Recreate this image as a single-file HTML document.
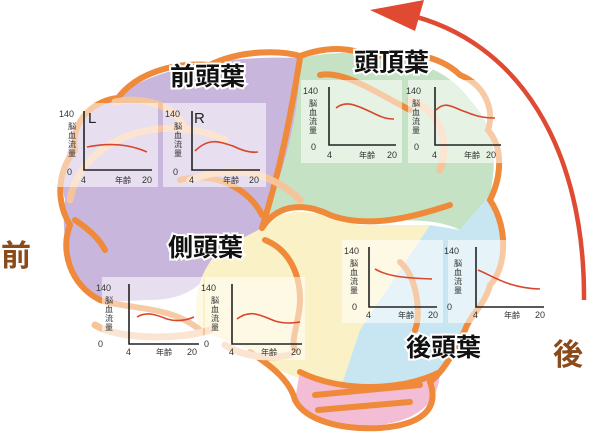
<!DOCTYPE html>
<html><head><meta charset="utf-8"><style>
html,body{margin:0;padding:0;background:#fff;width:600px;height:440px;overflow:hidden}
svg{display:block}
text{font-family:"Liberation Sans","Noto Sans CJK JP",sans-serif}
.t{font-size:9px;fill:#333}
.v{font-size:8px;fill:#333}
.ax{stroke:#222;stroke-width:1.6;fill:none}
.cv{stroke:#d9462a;stroke-width:1.6;fill:none}
.bx{fill:#fff;fill-opacity:0.55}
.lb{font-size:25px;font-weight:bold;fill:#111;stroke:#fff;stroke-width:4;paint-order:stroke}
.ol{stroke:#ee8a3a;stroke-width:6;fill:none;stroke-linecap:round}
.ol2{stroke:#f6c49a;stroke-width:7;fill:none;stroke-linecap:round}
</style></head><body>
<svg width="600" height="440" viewBox="0 0 600 440" xmlns="http://www.w3.org/2000/svg">
<path d="M120,95 C150,70 220,55 300,58 L320,58 C300,120 280,180 260,230 L215,265 C200,290 180,300 150,300 L100,302 C70,280 60,240 65,200 C55,160 80,105 120,95 Z" fill="#c9b6dc"/>
<path d="M300,58 C360,45 440,55 470,100 C500,130 495,170 490,195 L460,230 C420,210 360,230 320,215 C300,205 280,200 262,228 C280,180 300,120 300,58 Z" fill="#c5e3c4"/>
<path d="M262,228 C290,200 320,215 360,225 L430,225 L360,330 L340,390 C300,380 270,370 250,350 L200,330 C190,300 200,270 220,250 Z" fill="#faf1c6"/>
<path d="M430,225 L460,230 L490,195 C505,230 505,270 480,300 C460,330 450,360 430,380 C400,395 360,395 340,390 L360,330 Z" fill="#c8e6f2"/>
<path d="M300,370 C340,390 400,390 440,370 C440,400 420,420 380,425 C340,428 310,420 295,400 Z" fill="#f4bdd6"/>
<path class="ol" d="M100,300 C70,285 60,250 70,225 C55,200 58,170 75,150 C70,120 95,100 118,98 C135,75 170,62 210,65 C240,50 280,50 300,56 C330,45 355,48 372,58 C400,48 440,55 460,75 C485,85 495,110 488,130 C505,150 500,180 490,200 C510,230 505,270 490,285 C485,305 470,315 465,330 C455,350 445,370 430,382"/>
<path class="ol" d="M430,382 C440,410 420,425 380,428 C340,430 305,420 295,400 C290,380 270,365 250,352"/>
<path class="ol" d="M300,372 C340,392 400,392 440,372"/>
<path class="ol" d="M315,395 L420,385 M318,410 L410,402"/>
<path class="ol" d="M262,228 C280,200 310,205 330,215 C370,230 420,215 450,205"/>
<path class="ol" d="M300,58 C290,120 280,170 262,228"/>
<path class="ol" d="M320,75 C345,70 380,95 410,110"/>
<path class="ol" d="M180,180 C215,170 250,190 262,215"/>
<path class="ol" d="M265,240 C290,250 300,275 300,300 C300,320 290,340 295,350"/>
<path class="ol" d="M400,262 C420,280 420,320 415,330"/>
<path class="ol" d="M75,220 C90,230 100,240 105,250"/>
<path class="ol" d="M100,300 C130,310 170,305 200,330"/>
<path class="ol2" d="M70,200 C80,140 160,110 225,140"/>
<path class="ol2" d="M115,102 C150,95 180,110 185,130"/>
<path class="ol2" d="M190,180 C230,165 270,170 300,200"/>
<path class="ol2" d="M95,325 C120,340 180,340 210,330"/>
<path class="ol2" d="M225,345 C240,355 265,360 290,355"/>
<path class="ol2" d="M410,100 C440,110 450,140 440,170"/>
<g transform="translate(57,103)"><rect class="bx" width="101" height="84"/>
<text x="2" y="14" class="t">140</text><text x="31" y="20" style="font-size:15px;fill:#222">L</text>
<text x="15" y="26" class="v" text-anchor="middle">脳</text><text x="15" y="35" class="v" text-anchor="middle">血</text><text x="15" y="44" class="v" text-anchor="middle">流</text><text x="15" y="53" class="v" text-anchor="middle">量</text>
<text x="10" y="72" class="t">0</text><path class="ax" d="M27,8 V67 H95"/>
<text x="24" y="80" class="t">4</text><text x="58" y="80" class="v">年齢</text><text x="85" y="80" class="t">20</text>
<path class="cv" d="M30,44 C50,40 70,40 90,49"/></g>
<g transform="translate(163,103)"><rect class="bx" width="103" height="84"/>
<text x="2" y="14" class="t">140</text><text x="31" y="20" style="font-size:15px;fill:#222">R</text>
<text x="15" y="26" class="v" text-anchor="middle">脳</text><text x="15" y="35" class="v" text-anchor="middle">血</text><text x="15" y="44" class="v" text-anchor="middle">流</text><text x="15" y="53" class="v" text-anchor="middle">量</text>
<text x="10" y="72" class="t">0</text><path class="ax" d="M29,8 V67 H97"/>
<text x="26" y="80" class="t">4</text><text x="60" y="80" class="v">年齢</text><text x="86" y="80" class="t">20</text>
<path class="cv" d="M32,48 C45,35 55,38 70,43 C80,48 88,50 95,49"/></g>
<g transform="translate(301,80)"><rect class="bx" width="101" height="83"/>
<text x="2" y="14" class="t">140</text>
<text x="12" y="26" class="v" text-anchor="middle">脳</text><text x="12" y="35" class="v" text-anchor="middle">血</text><text x="12" y="44" class="v" text-anchor="middle">流</text><text x="12" y="53" class="v" text-anchor="middle">量</text>
<text x="10" y="70" class="t">0</text><path class="ax" d="M28,7 V65 H95"/>
<text x="26" y="78" class="t">4</text><text x="58" y="78" class="v">年齢</text><text x="86" y="78" class="t">20</text>
<path class="cv" d="M35,28 C45,20 55,25 70,32 C80,37 85,39 93,39"/></g>
<g transform="translate(408,80)"><rect class="bx" width="97" height="83"/>
<text x="-2" y="14" class="t">140</text>
<text x="8" y="26" class="v" text-anchor="middle">脳</text><text x="8" y="35" class="v" text-anchor="middle">血</text><text x="8" y="44" class="v" text-anchor="middle">流</text><text x="8" y="53" class="v" text-anchor="middle">量</text>
<text x="6" y="70" class="t">0</text><path class="ax" d="M27,7 V65 H93"/>
<text x="24" y="78" class="t">4</text><text x="56" y="78" class="v">年齢</text><text x="78" y="78" class="t">20</text>
<path class="cv" d="M28,30 C38,20 45,28 58,32 C68,36 75,38 87,38"/></g>
<g transform="translate(102,277)"><rect class="bx" width="101" height="83"/>
<text x="-6" y="14" class="t">140</text>
<text x="7" y="26" class="v" text-anchor="middle">脳</text><text x="7" y="35" class="v" text-anchor="middle">血</text><text x="7" y="44" class="v" text-anchor="middle">流</text><text x="7" y="53" class="v" text-anchor="middle">量</text>
<text x="-4" y="70" class="t">0</text><path class="ax" d="M27,7 V67 H97"/>
<text x="24" y="78" class="t">4</text><text x="54" y="78" class="v">年齢</text><text x="85" y="78" class="t">20</text>
<path class="cv" d="M35,40 C45,34 55,38 65,42 C75,45 85,43 92,40"/></g>
<g transform="translate(205,277)"><rect class="bx" width="100" height="83"/>
<text x="-4" y="14" class="t">140</text>
<text x="10" y="26" class="v" text-anchor="middle">脳</text><text x="10" y="35" class="v" text-anchor="middle">血</text><text x="10" y="44" class="v" text-anchor="middle">流</text><text x="10" y="53" class="v" text-anchor="middle">量</text>
<text x="-1" y="70" class="t">0</text><path class="ax" d="M27,7 V67 H97"/>
<text x="24" y="78" class="t">4</text><text x="56" y="78" class="v">年齢</text><text x="86" y="78" class="t">20</text>
<path class="cv" d="M32,42 C45,32 55,38 70,44 C80,47 88,46 95,45"/></g>
<g transform="translate(342,240)"><rect class="bx" width="101" height="83"/>
<text x="2" y="14" class="t">140</text>
<text x="12" y="26" class="v" text-anchor="middle">脳</text><text x="12" y="35" class="v" text-anchor="middle">血</text><text x="12" y="44" class="v" text-anchor="middle">流</text><text x="12" y="53" class="v" text-anchor="middle">量</text>
<text x="10" y="70" class="t">0</text><path class="ax" d="M27,7 V67 H95"/>
<text x="24" y="78" class="t">4</text><text x="56" y="78" class="v">年齢</text><text x="86" y="78" class="t">20</text>
<path class="cv" d="M33,29 C45,36 60,38 90,39"/></g>
<g transform="translate(448,240)"><rect class="bx" width="100" height="83"/>
<text x="-4" y="14" class="t">140</text>
<text x="10" y="26" class="v" text-anchor="middle">脳</text><text x="10" y="35" class="v" text-anchor="middle">血</text><text x="10" y="44" class="v" text-anchor="middle">流</text><text x="10" y="53" class="v" text-anchor="middle">量</text>
<text x="-1" y="70" class="t">0</text><path class="ax" d="M28,7 V67 H96"/>
<text x="25" y="78" class="t">4</text><text x="56" y="78" class="v">年齢</text><text x="87" y="78" class="t">20</text>
<path class="cv" d="M30,30 C45,36 60,48 92,49"/></g>
<text x="170" y="85" class="lb">前頭葉</text>
<text x="354" y="71" class="lb">頭頂葉</text>
<text x="168" y="256" class="lb">側頭葉</text>
<text x="406" y="356" class="lb">後頭葉</text>
<text x="1" y="266" style="font-size:30px;font-weight:bold;fill:#8a4a1a">前</text>
<text x="553" y="365" style="font-size:30px;font-weight:bold;fill:#8a4a1a">後</text>
<path d="M584,300 C585,150 520,40 405,14" stroke="#e04a32" stroke-width="4.5" fill="none"/>
<path d="M370,10 L424,0 L415,31 Z" fill="#e04a32"/>
</svg>
</body></html>
